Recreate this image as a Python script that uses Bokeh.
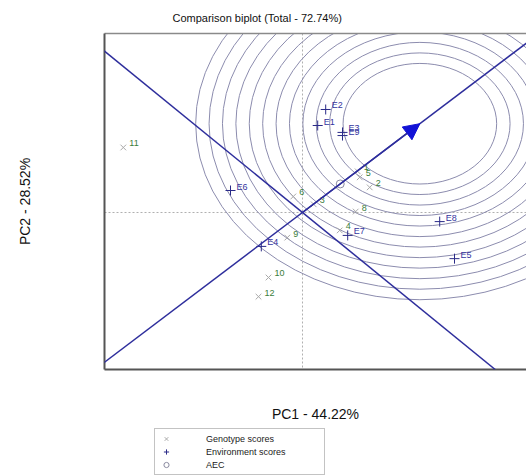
import numpy as np
from bokeh.plotting import figure
from bokeh.layouts import column
from bokeh.models import (ColumnDataSource, Slope, Span, Arrow, NormalHead, Legend,
                          LegendItem, LinearAxis, FixedTicker, Range1d)
from bokeh.embed import file_html
from bokeh.resources import INLINE
from bokeh.core.properties import value

# ---------------- data ----------------
title_text = "Comparison biplot (Total - 72.74%)"
pc1_label = "PC1 - 44.22%"
pc2_label = "PC2 - 28.52%"

genotypes = ["1", "2", "3", "4", "5", "6", "8", "9", "10", "11", "12"]
gen_pc1 = [1.38, 1.68, 0.28, 0.93, 1.43, -0.23, 1.33, -0.38, -0.85, -4.48, -1.10]
gen_pc2 = [1.31, 0.80, 0.26, -0.57, 1.12, 0.51, 0.03, -0.80, -2.07, 2.07, -2.68]

environments = ["E1", "E2", "E3", "E4", "E5", "E6", "E7", "E8", "E9"]
env_pc1 = [0.38, 0.58, 1.00, -1.03, 3.80, -1.80, 1.13, 3.43, 1.00]
env_pc2 = [2.77, 3.28, 2.55, -1.08, -1.47, 0.70, -0.73, -0.29, 2.45]

ring_radii = [1.92, 2.255, 2.59, 2.925, 3.26, 3.595, 3.93, 4.265, 4.6, 4.935, 5.27, 5.605]

legend_labels = ["Genotype scores", "Environment scores", "AEC"]

# ---------------- derived (AEC / ideal environment) ----------------
ex = np.array(env_pc1)
ey = np.array(env_pc2)
med1, med2 = ex.mean(), ey.mean()
mod = np.sqrt(ex ** 2 + ey ** 2).max()
ideal_x = np.sign(med1) * np.sqrt(mod ** 2 / (1 + med2 ** 2 / med1 ** 2))
ideal_y = med2 / med1 * ideal_x

FONT = "Liberation Sans"
NAVY = "#2e2e9c"
GEN_MARK = dict(marker="x", size=8, line_color="#aaaaaa", line_width=1)
ENV_MARK = dict(marker="cross", size=10, line_color="#2a2a88", line_width=1)
AEC_MARK = dict(marker="circle", size=8, fill_alpha=0, line_color="#8a8aa0", line_width=1)

p = figure(width=526, height=425, output_backend="svg", toolbar_location=None,
           x_range=Range1d(-4.95, 5.6), y_range=Range1d(-5.0, 5.7),
           min_border_left=104, min_border_right=0, min_border_top=33,
           min_border_bottom=56)
p.outline_line_color = None
p.grid.visible = False

for ax in (p.xaxis[0], p.yaxis[0]):
    ax.ticker = FixedTicker(ticks=[])
    ax.major_tick_line_color = None
    ax.minor_tick_line_color = None
    ax.major_label_text_font_size = "0px"
    ax.major_label_standoff = 0
    ax.axis_line_color = "#555555"
    ax.axis_line_width = 2
    ax.axis_label_text_font = FONT
    ax.axis_label_text_font_size = "14px"
    ax.axis_label_text_font_style = "normal"
    ax.axis_label_text_color = "#111111"

p.xaxis.axis_label = pc1_label
p.xaxis.axis_label_standoff = 36
p.yaxis.axis_label = pc2_label
p.yaxis.axis_label_standoff = 72

top = LinearAxis(ticker=FixedTicker(ticks=[]), major_tick_line_color=None,
                 minor_tick_line_color=None, major_label_text_font_size="0px",
                 major_label_standoff=0, axis_line_color="#8a8a8a", axis_line_width=1.5)
p.add_layout(top, "above")

p.title.text = title_text
p.title.align = "left"
p.title.offset = 68
p.title.text_font = FONT
p.title.text_font_size = "11px"
p.title.text_font_style = "normal"
p.title.text_color = "#111111"
p.title.standoff = 19

# rings around ideal environment
n = len(ring_radii)
p.ellipse(x=[ideal_x] * n, y=[ideal_y] * n,
          width=[2 * r for r in ring_radii], height=[2 * r for r in ring_radii],
          fill_alpha=0, line_color="#8c8cae", line_width=1)

# origin dotted lines
p.add_layout(Span(location=0, dimension="height", line_color="#b0b0b0",
                  line_dash="2 2", line_width=1, level="underlay"))
p.add_layout(Span(location=0, dimension="width", line_color="#b0b0b0",
                  line_dash="2 2", line_width=1, level="underlay"))

# AEC axis and its perpendicular
p.add_layout(Slope(gradient=med2 / med1, y_intercept=0, line_color=NAVY, line_width=1.5))
p.add_layout(Slope(gradient=-med1 / med2, y_intercept=0, line_color=NAVY, line_width=1.5))
p.add_layout(Arrow(end=NormalHead(size=16, fill_color="#1212d6", line_color="#1212d6"),
                   x_start=0, y_start=0, x_end=ideal_x, y_end=ideal_y,
                   line_color=NAVY, line_width=1.5))

gsrc = ColumnDataSource(dict(x=gen_pc1, y=gen_pc2, name=genotypes))
esrc = ColumnDataSource(dict(x=env_pc1, y=env_pc2, name=environments))
asrc = ColumnDataSource(dict(x=[med1], y=[med2]))

p.scatter("x", "y", source=gsrc, **GEN_MARK)
p.scatter("x", "y", source=esrc, **ENV_MARK)
p.scatter("x", "y", source=asrc, **AEC_MARK)

p.text("x", "y", text="name", source=gsrc, x_offset=6, y_offset=-4,
       text_baseline="middle", text_font=value(FONT), text_font_size="9px",
       text_color="#3a7d3a")
p.text("x", "y", text="name", source=esrc, x_offset=6, y_offset=-4,
       text_baseline="middle", text_font=value(FONT), text_font_size="9px",
       text_color="#3535a0")

# ---------------- legend strip below the plot ----------------
# (its renderers share the data sources but the view range keeps them out of sight;
#  they only supply the legend swatches)
q = figure(width=526, height=51, output_backend="svg", toolbar_location=None,
           x_axis_type=None, y_axis_type=None,
           x_range=Range1d(100, 101), y_range=Range1d(100, 101),
           min_border_left=0, min_border_right=0, min_border_top=0, min_border_bottom=0)
q.outline_line_color = None
q.grid.visible = False
lg = q.scatter("x", "y", source=gsrc, **GEN_MARK)
le = q.scatter("x", "y", source=esrc, **ENV_MARK)
la = q.scatter("x", "y", source=asrc, **AEC_MARK)

legend = Legend(items=[LegendItem(label=legend_labels[0], renderers=[lg], index=0),
                       LegendItem(label=legend_labels[1], renderers=[le], index=0),
                       LegendItem(label=legend_labels[2], renderers=[la], index=0)],
                location=(50, 1), border_line_color="#888888", border_line_width=1,
                background_fill_color="white", background_fill_alpha=1,
                label_text_font=FONT, label_text_font_size="9px", label_text_color="#222222",
                glyph_width=16, glyph_height=13, label_height=13, label_standoff=32,
                padding=3, spacing=0, margin=0, label_width=115)
q.add_layout(legend)

layout = column(p, q, spacing=0)
open("out.html", "w").write(file_html(layout, INLINE))
